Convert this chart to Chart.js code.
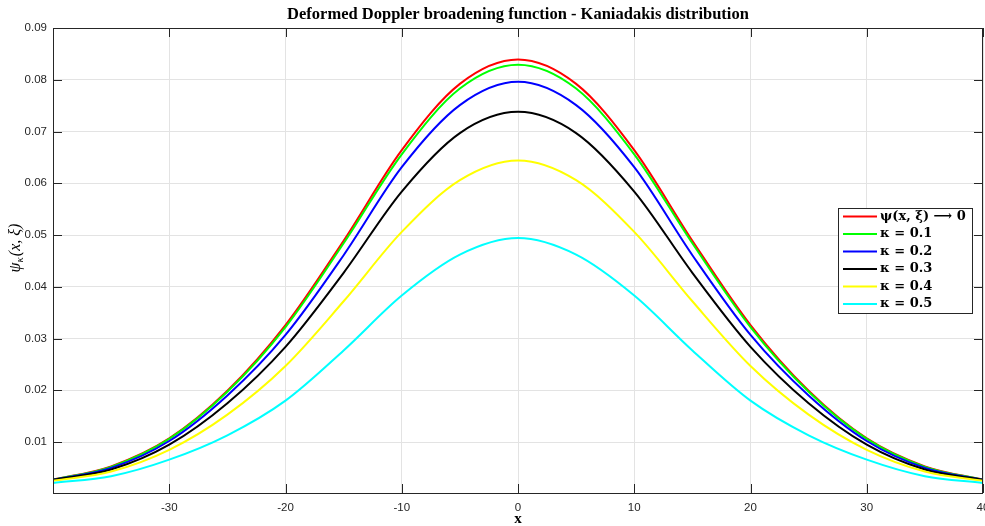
<!DOCTYPE html>
<html lang="en">
<head>
    <meta charset="UTF-8">
    <title>Deformed Doppler broadening function - Kaniadakis distribution</title>
    <script src="https://cdn.jsdelivr.net/npm/chart.js@4.4.1/dist/chart.umd.min.js"></script>
    <style>
        body {
            margin: 0;
            padding: 0;
            background: #ffffff;
            overflow: hidden;
        }
        canvas {
            display: block;
        }
    </style>
</head>
<body>
    <canvas id="myChart" width="985" height="526"></canvas>
    <script>
        // x positions (step 5)
        const xValues = [-40, -35, -30, -25, -20, -15, -10, -5, 0, 5, 10, 15, 20, 25, 30, 35, 40];

        // curves
        const psiLimit = [0.0027, 0.0053, 0.0107, 0.0199, 0.0326, 0.0489, 0.0664, 0.0792, 0.0839, 0.0792, 0.0664, 0.0489, 0.0326, 0.0199, 0.0107, 0.0053, 0.0027];
        const kappa01 = [0.0027, 0.0052, 0.0106, 0.0197, 0.0322, 0.0484, 0.0656, 0.0783, 0.0829, 0.0783, 0.0656, 0.0484, 0.0322, 0.0197, 0.0106, 0.0052, 0.0027];
        const kappa02 = [0.0027, 0.0050, 0.0102, 0.0190, 0.0307, 0.0461, 0.0631, 0.0751, 0.0796, 0.0751, 0.0631, 0.0461, 0.0307, 0.0190, 0.0102, 0.0050, 0.0027];
        const kappa03 = [0.0027, 0.0047, 0.0095, 0.0175, 0.0284, 0.0427, 0.0584, 0.0697, 0.0738, 0.0697, 0.0584, 0.0427, 0.0284, 0.0175, 0.0095, 0.0047, 0.0027];
        const kappa04 = [0.0025, 0.0043, 0.0085, 0.0153, 0.0247, 0.0372, 0.0506, 0.0606, 0.0644, 0.0606, 0.0506, 0.0372, 0.0247, 0.0153, 0.0085, 0.0043, 0.0025];
        const kappa05 = [0.0021, 0.0034, 0.0066, 0.0113, 0.0180, 0.0277, 0.0383, 0.0462, 0.0494, 0.0462, 0.0383, 0.0277, 0.0180, 0.0113, 0.0066, 0.0034, 0.0021];

        const seriesData = [psiLimit, kappa01, kappa02, kappa03, kappa04, kappa05];
        const seriesLabels = ['ψ(x, ξ) ⟶ 0', 'κ = 0.1', 'κ = 0.2', 'κ = 0.3', 'κ = 0.4', 'κ = 0.5'];
        const seriesColors = ['#ff0000', '#00ff00', '#0000ff', '#000000', '#ffff00', '#00ffff'];

        const yTickMin = 0.00015;
        const yTickMax = 0.09;
        const xTickMin = -40;
        const xTickMax = 40;

        const titleText = 'Deformed Doppler broadening function - Kaniadakis distribution';
        const xLabel = 'x';

        const axisColor = '#262626';

        // box, inward ticks, title, axis labels and legend (matlab look)
        const matlabFrame = {
            id: 'matlabFrame',
            afterDraw(chart) {
                const ctx = chart.ctx;
                const a = chart.chartArea;
                const xs = chart.scales.x;
                const ys = chart.scales.y;
                ctx.save();
                ctx.strokeStyle = axisColor;
                ctx.lineWidth = 1;
                ctx.strokeRect(a.left + 0.5, a.top + 0.5, a.right - a.left - 1, a.bottom - a.top);

                const tl = 9;
                ctx.beginPath();
                xs.ticks.forEach(t => {
                    const px = Math.round(xs.getPixelForValue(t.value)) + 0.5;
                    ctx.moveTo(px, a.bottom); ctx.lineTo(px, a.bottom - tl);
                    ctx.moveTo(px, a.top); ctx.lineTo(px, a.top + tl);
                });
                ys.ticks.forEach(t => {
                    const py = Math.round(ys.getPixelForValue(t.value)) + 0.5;
                    ctx.moveTo(a.left, py); ctx.lineTo(a.left + tl, py);
                    ctx.moveTo(a.right, py); ctx.lineTo(a.right - tl, py);
                });
                ctx.stroke();

                // title
                ctx.fillStyle = '#000000';
                ctx.font = 'bold 16.5px "Liberation Serif", "DejaVu Serif", serif';
                ctx.textAlign = 'center';
                ctx.textBaseline = 'middle';
                ctx.fillText(titleText, (a.left + a.right) / 2, 15);

                // x label
                ctx.font = 'bold 15px "Liberation Serif", serif';
                ctx.fillText(xLabel, (a.left + a.right) / 2, 519);

                // y label psi_kappa(x, xi)
                ctx.save();
                ctx.translate(16, 248);
                ctx.rotate(-Math.PI / 2);
                const big = 'italic 16px "Liberation Serif", serif';
                const small = 'italic 11px "Liberation Serif", serif';
                ctx.font = big;
                const w1 = ctx.measureText('ψ').width;
                const w3 = ctx.measureText('(x, ξ)').width;
                ctx.font = small;
                const w2 = ctx.measureText('κ').width;
                let cx = -(w1 + w2 + w3 + 1) / 2;
                ctx.textAlign = 'left';
                ctx.font = big;
                ctx.fillText('ψ', cx, 0);
                cx += w1;
                ctx.font = small;
                ctx.fillText('κ', cx, 4);
                cx += w2 + 1;
                ctx.font = big;
                ctx.fillText('(x, ξ)', cx, 0);
                ctx.restore();

                // legend
                const lx = a.right - 145;
                const ly = a.top + 180;
                const lw = 134;
                const lh = 105;
                ctx.fillStyle = '#ffffff';
                ctx.fillRect(lx, ly, lw, lh);
                ctx.strokeStyle = axisColor;
                ctx.strokeRect(lx + 0.5, ly + 0.5, lw, lh);
                ctx.font = 'bold 13px "DejaVu Serif", serif';
                ctx.textAlign = 'left';
                ctx.textBaseline = 'middle';
                seriesLabels.forEach((lab, i) => {
                    const ry = ly + 8.5 + i * 17.5;
                    ctx.strokeStyle = seriesColors[i];
                    ctx.lineWidth = 2;
                    ctx.beginPath();
                    ctx.moveTo(lx + 5, ry);
                    ctx.lineTo(lx + 39, ry);
                    ctx.stroke();
                    ctx.fillStyle = '#000000';
                    ctx.fillText(lab, lx + 42, ry);
                });
                ctx.restore();
            }
        };

        const ctx = document.getElementById('myChart').getContext('2d');
        const myChart = new Chart(ctx, {
            type: 'line',
            data: {
                datasets: seriesData.map((arr, i) => ({
                    label: seriesLabels[i],
                    data: arr.map((v, j) => ({ x: xValues[j], y: v })),
                    borderColor: seriesColors[i],
                    borderWidth: 2,
                    pointRadius: 0,
                    fill: false,
                    cubicInterpolationMode: 'monotone',
                    order: seriesData.length - i
                }))
            },
            options: {
                responsive: false,
                animation: false,
                layout: { padding: { top: 28, right: 2, left: 0, bottom: 0 } },
                plugins: {
                    legend: { display: false },
                    title: { display: false },
                    tooltip: { enabled: false }
                },
                scales: {
                    x: {
                        type: 'linear',
                        min: xTickMin,
                        max: xTickMax,
                        border: { display: false },
                        grid: { color: '#e3e3e3', drawTicks: false },
                        ticks: {
                            stepSize: 10,
                            padding: 8,
                            color: axisColor,
                            maxRotation: 0,
                            font: { family: '"Liberation Sans", Arial, sans-serif', size: 11.5 },
                            callback: v => (v === xTickMin ? '' : v)
                        },
                        afterFit: s => { s.height = 33; s.paddingLeft = 0; s.paddingRight = 0; }
                    },
                    y: {
                        min: yTickMin,
                        max: yTickMax,
                        border: { display: false },
                        grid: { color: '#e3e3e3', drawTicks: false },
                        ticks: {
                            stepSize: 0.01,
                            includeBounds: false,
                            padding: 6,
                            color: axisColor,
                            font: { family: '"Liberation Sans", Arial, sans-serif', size: 11.5 },
                            callback: v => v.toFixed(2)
                        },
                        afterFit: s => { s.width = 53; s.paddingTop = 0; s.paddingBottom = 0; }
                    }
                }
            },
            plugins: [matlabFrame]
        });
    </script>
</body>
</html>
